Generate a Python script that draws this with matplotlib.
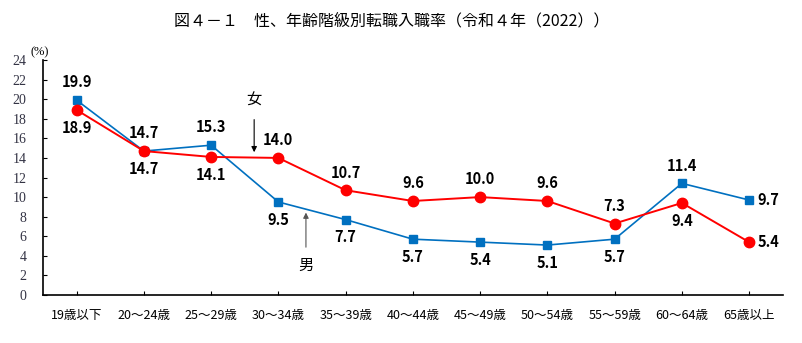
import matplotlib
matplotlib.use("Agg")
import matplotlib.pyplot as plt

plt.rcParams['font.family'] = ['Noto Sans CJK JP', 'DejaVu Sans']

# data
ages = ['19歳以下', '20～24歳', '25～29歳', '30～34歳', '35～39歳', '40～44歳',
        '45～49歳', '50～54歳', '55～59歳', '60～64歳', '65歳以上']
male = [19.9, 14.7, 15.3, 9.5, 7.7, 5.7, 5.4, 5.1, 5.7, 11.4, 9.7]
female = [18.9, 14.7, 14.1, 14.0, 10.7, 9.6, 10.0, 9.6, 7.3, 9.4, 5.4]
# where each value label sits: 'a' above, 'b' below, 'r' right
male_pos = ['a', 'a', 'a', 'b', 'b', 'b', 'b', 'b', 'b', 'a', 'r']
female_pos = ['b', 'b', 'b', 'a', 'a', 'a', 'a', 'a', 'a', 'b', 'r']

blue = '#0070C0'
red = '#FF0000'

fig = plt.figure(figsize=(8.02, 3.43), dpi=100)
ax = fig.add_axes([0.0536, 0.140, 0.9224, 0.685])

x = range(len(ages))
ax.plot(x, male, color=blue, lw=1.2, marker='s', ms=6, zorder=3)
ax.plot(x, female, color=red, lw=1.4, marker='o', ms=7.5, zorder=4)


def put_labels(vals, pos):
    for i, (v, p) in enumerate(zip(vals, pos)):
        if p == 'a':
            ax.annotate(f'{v:.1f}', (i, v), xytext=(0, 7), textcoords='offset points',
                        ha='center', va='bottom', fontsize=10.5, fontweight='bold')
        elif p == 'b':
            ax.annotate(f'{v:.1f}', (i, v), xytext=(0, -7), textcoords='offset points',
                        ha='center', va='top', fontsize=10.5, fontweight='bold')
        else:
            ax.annotate(f'{v:.1f}', (i, v), xytext=(6, 0), textcoords='offset points',
                        ha='left', va='center', fontsize=10.5, fontweight='bold')


put_labels(male, male_pos)
put_labels(female, female_pos)

# 女 / 男 arrows
ax.annotate('', xy=(2.64, 14.3), xytext=(2.64, 18.2),
            arrowprops=dict(arrowstyle='-|>', color='black', lw=0.8, mutation_scale=8))
ax.text(2.64, 19.9, '女', ha='center', va='center', fontsize=11)
ax.annotate('', xy=(3.41, 8.7), xytext=(3.41, 4.6),
            arrowprops=dict(arrowstyle='-|>', color='#555555', lw=0.8, mutation_scale=8))
ax.text(3.41, 3.0, '男', ha='center', va='center', fontsize=11)

ax.set_xlim(-0.5, len(ages) - 0.5)
ax.set_ylim(0, 24)
ax.set_yticks(range(0, 25, 2))
ax.set_xticks(list(x))
ax.set_xticklabels(ages, fontsize=9)
ax.tick_params(axis='y', direction='in', length=3, labelsize=10, pad=12,
               labelcolor='#333344')
ax.tick_params(axis='x', direction='in', length=3, pad=10)
for lab in ax.get_yticklabels():
    lab.set_family(['Liberation Serif'])
for s in ['top', 'right']:
    ax.spines[s].set_visible(False)
ax.spines['left'].set_linewidth(1.2)
ax.spines['bottom'].set_linewidth(1.2)
ax.text(-0.55, 24.2, '(%)', ha='center', va='bottom', fontsize=9,
        family=['Liberation Serif'])

fig.text(0.488, 0.94, '図４－１　性、年齢階級別転職入職率（令和４年（2022））',
         ha='center', va='center', fontsize=11.5)

fig.savefig('out.png', dpi=100)
